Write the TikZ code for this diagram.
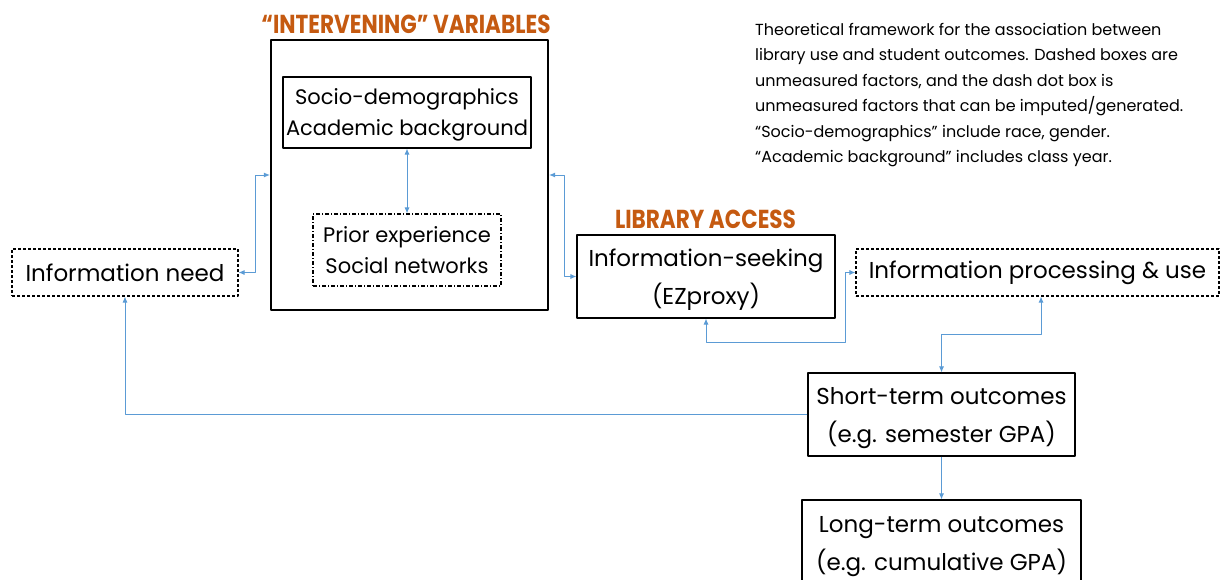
\documentclass[tikz,border=0pt]{standalone}
\usepackage{fontspec}
\setmainfont{Poppins}
\newfontfamily\titlefont[FakeStretch=0.83]{Poppins}
\usetikzlibrary{arrows.meta}
\definecolor{linkblue}{HTML}{5B9BD5}
\definecolor{titleorange}{HTML}{C55A11}

\begin{document}
\begin{tikzpicture}[x=1pt,y=-1pt,line join=round,
  box/.style={draw,line width=1.1pt,inner sep=0pt,align=center,font=\fontsize{23}{38}\selectfont},
  twoline/.style={text depth=-4pt},
  dashbox/.style={box,dash pattern=on 3pt off 2pt},
  dotbox/.style={box,dash pattern=on 4pt off 2pt on 1pt off 2pt},
  heading/.style={text=titleorange,font=\titlefont\bfseries\fontsize{26}{28}\selectfont},
  link/.style={draw=linkblue,line width=0.9pt,-{Latex[length=6pt,width=5pt]}},
  twolink/.style={link,{Latex[length=6pt,width=5pt]}-{Latex[length=6pt,width=5pt]}}]

\useasboundingbox (0,0) rectangle (1222,580);

%intervening variables
\node[heading] (intervening) at (406,24) {“INTERVENING” VARIABLES};
\node[box,line width=2.2pt,minimum width=277,minimum height=270] (big) at (409.5,175) {};
\node[box,twoline,minimum width=248,minimum height=71,font=\fontsize{21}{31}\selectfont] (socio) at (407,112.5) {Socio-demographics\\Academic background};
\node[dotbox,twoline,minimum width=188,minimum height=72,font=\fontsize{21}{31}\selectfont] (prior) at (407,250) {Prior experience\\Social networks};

%left side
\node[dashbox,minimum width=226,minimum height=47] (need) at (125,272.5) {Information need};

%library access
\node[heading] (access) at (705.5,219) {LIBRARY ACCESS};
\node[box,twoline,minimum width=258,minimum height=83] (seek) at (706,276.5) {Information-seeking\\(EZproxy)};
\node[dashbox,minimum width=363,minimum height=47] (proc) at (1037.5,272.5) {Information processing \& use};

%outcomes
\node[box,twoline,minimum width=267,minimum height=83] (short) at (941.5,414.5) {Short-term outcomes\\(e.g. semester GPA)};
\node[box,twoline,minimum width=279,minimum height=86] (long) at (941.5,543) {Long-term outcomes\\(e.g. cumulative GPA)};

%note
\node[anchor=north west,inner sep=0pt,align=left,font=\fontsize{16}{25.4}\selectfont] (note) at (755,23)
 {Theoretical framework for the association between\\
  library use and student outcomes. Dashed boxes are\\
  unmeasured factors, and the dash dot box is\\
  unmeasured factors that can be imputed/generated.\\
  “Socio-demographics” include race, gender.\\
  “Academic background” includes class year.};

%connectors
\draw[twolink] (need.east) -- ++(17,0) |- (big.west);
\draw[twolink] (socio.south) -- (prior.north);
\draw[twolink] (big.east) -- ++(15,0) |- (seek.west);
\draw[twolink] (seek.south) -- ++(0,24) -| ([xshift=-10pt]proc.west) -- (proc.west);
\draw[twolink] ([xshift=3.5pt]proc.south) -- ++(0,38) -| (short.north);
\draw[link] (short.west) -| (need.south);
\draw[link] (short.south) -- (long.north);
\end{tikzpicture}
\end{document}
